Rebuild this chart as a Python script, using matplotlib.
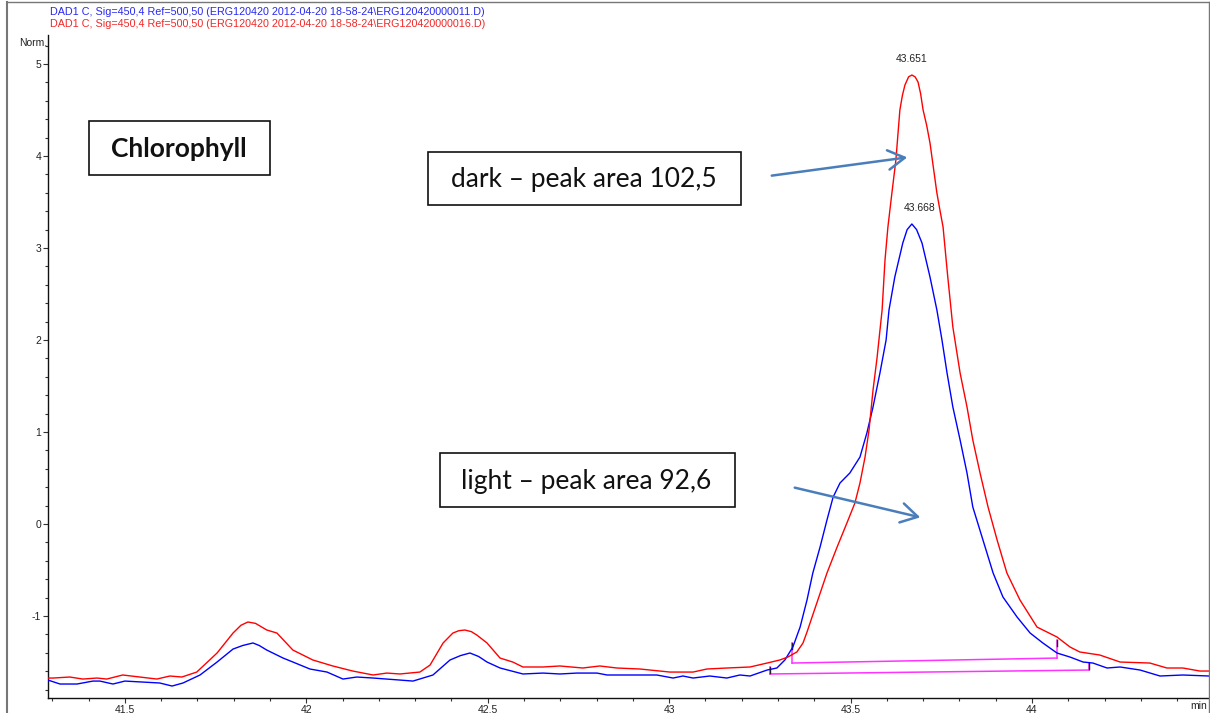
import matplotlib
matplotlib.use("Agg")
import matplotlib.pyplot as plt
from matplotlib.patches import Rectangle, FancyArrowPatch
from matplotlib.lines import Line2D
from matplotlib.ticker import MultipleLocator

# ---------------- data ----------------
time_dark = [41.288, 41.302, 41.348, 41.384, 41.423, 41.450, 41.494, 41.541, 41.588, 41.624,
             41.657, 41.698, 41.754, 41.798, 41.820, 41.839, 41.860, 41.891, 41.919, 41.963,
             42.018, 42.073, 42.128, 42.184, 42.222, 42.258, 42.313, 42.341, 42.377, 42.404,
             42.420, 42.437, 42.455, 42.470, 42.498, 42.534, 42.569, 42.597, 42.652, 42.699,
             42.762, 42.809, 42.856, 42.920, 43.002, 43.066, 43.104, 43.159, 43.223, 43.270,
             43.305, 43.327, 43.352, 43.369, 43.380, 43.407, 43.435, 43.463, 43.490, 43.512,
             43.526, 43.540, 43.551, 43.562, 43.573, 43.587, 43.595, 43.603, 43.614, 43.625,
             43.636, 43.643, 43.650, 43.660, 43.669, 43.678, 43.686, 43.693, 43.700, 43.710,
             43.719, 43.738, 43.746, 43.755, 43.768, 43.782, 43.802, 43.821, 43.837, 43.857,
             43.879, 43.904, 43.931, 43.967, 44.014, 44.069, 44.105, 44.132, 44.187, 44.243,
             44.325, 44.372, 44.416, 44.463, 44.488]
signal_dark = [-1.674, -1.674, -1.663, -1.685, -1.674, -1.685, -1.641, -1.663, -1.685, -1.652,
               -1.663, -1.609, -1.402, -1.185, -1.100, -1.065, -1.080, -1.152, -1.185, -1.370,
               -1.478, -1.543, -1.598, -1.641, -1.620, -1.630, -1.609, -1.533, -1.293, -1.185,
               -1.160, -1.152, -1.170, -1.207, -1.293, -1.457, -1.500, -1.554, -1.554, -1.543,
               -1.565, -1.543, -1.565, -1.576, -1.609, -1.609, -1.576, -1.565, -1.554, -1.511,
               -1.478, -1.446, -1.391, -1.293, -1.174, -0.859, -0.533, -0.250, 0.011, 0.228,
               0.446, 0.728, 1.022, 1.457, 1.804, 2.326, 2.870, 3.228, 3.598, 3.957,
               4.500, 4.660, 4.772, 4.860, 4.880, 4.860, 4.804, 4.680, 4.500, 4.330,
               4.141, 3.598, 3.420, 3.228, 2.685, 2.141, 1.641, 1.272, 0.913, 0.554,
               0.185, -0.174, -0.533, -0.826, -1.120, -1.228, -1.337, -1.391, -1.424, -1.500,
               -1.511, -1.565, -1.565, -1.598, -1.598]

time_light = [41.288, 41.321, 41.368, 41.412, 41.431, 41.467, 41.500, 41.596, 41.630, 41.660,
              41.707, 41.754, 41.798, 41.825, 41.853, 41.870, 41.891, 41.936, 41.963, 42.010,
              42.057, 42.101, 42.139, 42.184, 42.258, 42.294, 42.349, 42.396, 42.425, 42.451,
              42.475, 42.498, 42.534, 42.597, 42.652, 42.699, 42.746, 42.801, 42.829, 42.900,
              42.966, 43.011, 43.038, 43.066, 43.112, 43.159, 43.195, 43.223, 43.270, 43.297,
              43.319, 43.341, 43.361, 43.380, 43.396, 43.416, 43.435, 43.452, 43.471, 43.498,
              43.526, 43.545, 43.562, 43.581, 43.598, 43.606, 43.622, 43.644, 43.656, 43.669,
              43.682, 43.697, 43.719, 43.738, 43.752, 43.766, 43.782, 43.802, 43.821, 43.837,
              43.865, 43.893, 43.920, 43.959, 43.995, 44.030, 44.069, 44.105, 44.141, 44.168,
              44.207, 44.243, 44.298, 44.353, 44.416, 44.488]
signal_light = [-1.696, -1.739, -1.739, -1.707, -1.707, -1.739, -1.707, -1.728, -1.761, -1.728,
                -1.641, -1.500, -1.359, -1.320, -1.293, -1.320, -1.370, -1.457, -1.500, -1.576,
                -1.609, -1.685, -1.663, -1.674, -1.696, -1.707, -1.641, -1.478, -1.430, -1.402,
                -1.440, -1.500, -1.565, -1.630, -1.620, -1.630, -1.620, -1.620, -1.641, -1.641,
                -1.641, -1.674, -1.652, -1.674, -1.652, -1.674, -1.641, -1.652, -1.587, -1.565,
                -1.478, -1.337, -1.120, -0.826, -0.533, -0.250, 0.043, 0.293, 0.446, 0.554,
                0.728, 0.989, 1.272, 1.641, 2.000, 2.326, 2.685, 3.054, 3.200, 3.261,
                3.200, 3.054, 2.685, 2.326, 2.000, 1.641, 1.272, 0.913, 0.554, 0.185,
                -0.174, -0.533, -0.793, -1.011, -1.185, -1.293, -1.402, -1.446, -1.500, -1.511,
                -1.565, -1.554, -1.587, -1.652, -1.641, -1.652]

# integration baselines: [start_time, end_time], [start_level, end_level], [start_top, end_top]
base_dark_t = [43.339, 44.069]
base_dark_y = [-1.511, -1.457]
base_dark_top = [-1.29, -1.26]
base_light_t = [43.278, 44.157]
base_light_y = [-1.630, -1.587]
base_light_top = [-1.554, -1.51]

peak_labels = ["43.651", "43.668"]
peak_label_pos = [(43.669, 4.88), (43.690, 3.26)]

header_light = r"DAD1 C, Sig=450,4 Ref=500,50 (ERG120420 2012-04-20 18-58-24\ERG120420000011.D)"
header_dark = r"DAD1 C, Sig=450,4 Ref=500,50 (ERG120420 2012-04-20 18-58-24\ERG120420000016.D)"

# ---------------- figure ----------------
W, H = 1210, 713
fig = plt.figure(figsize=(W / 100, H / 100), dpi=100)

def fx(px):
    return px / W

def fy(py):
    return 1 - py / H

ax_left, ax_right, ax_top, ax_bottom = 48, 1209, 35, 698
ax = fig.add_axes([fx(ax_left), fy(ax_bottom), fx(ax_right - ax_left), (ax_bottom - ax_top) / H])

ax.plot(time_light, signal_light, color="#0000FF", lw=1.0, zorder=3, solid_joinstyle="round")
ax.plot(time_dark, signal_dark, color="#FF0000", lw=1.0, zorder=3, solid_joinstyle="round")

mag = "#FF33FF"
for t, yv, top in [(base_dark_t, base_dark_y, base_dark_top), (base_light_t, base_light_y, base_light_top)]:
    ax.plot(t, yv, color=mag, lw=1.1, zorder=2)
    for i in range(2):
        ax.plot([t[i], t[i]], [yv[i], top[i]], color=mag, lw=1.1, zorder=2)
        ax.plot([t[i], t[i]], [top[i] - 0.07, top[i]], color="#222222", lw=1.0, zorder=2)

for lab, (xx, yy) in zip(peak_labels, peak_label_pos):
    ax.annotate(lab, (xx, yy), xytext=(0, 8), textcoords="offset points", ha="center", va="bottom",
                fontsize=7.5, family="Liberation Sans", color="#222222")

ax.set_xlim(41.288, 44.488)
ax.set_ylim(-1.891, 5.315)
ax.xaxis.set_major_locator(MultipleLocator(0.5))
ax.xaxis.set_minor_locator(MultipleLocator(0.1))
ax.yaxis.set_major_locator(MultipleLocator(1))
ax.yaxis.set_minor_locator(MultipleLocator(0.2))
ax.xaxis.set_major_formatter(plt.FuncFormatter(lambda v, p: f"{v:g}"))
ax.yaxis.set_major_formatter(plt.FuncFormatter(lambda v, p: f"{v:g}"))
for s in ["top", "right"]:
    ax.spines[s].set_visible(False)
for s in ["left", "bottom"]:
    ax.spines[s].set_linewidth(1.0)
    ax.spines[s].set_color("#111111")
ax.tick_params(which="major", length=3.5, width=0.8, color="#333333", labelsize=7.5, pad=1.5)
ax.tick_params(which="minor", length=2.5, width=0.8, color="#333333")
for lab in ax.get_xticklabels() + ax.get_yticklabels():
    lab.set_family("Liberation Sans")
    lab.set_color("#222222")

fig.text(fx(47), fy(43), "Norm.", ha="right", va="center", fontsize=7.5, family="Liberation Sans", color="#222222")
fig.text(fx(1207), fy(701), "min", ha="right", va="top", fontsize=7.5, family="Liberation Sans", color="#222222")

fig.text(fx(50), fy(12), header_light, ha="left", va="center", fontsize=7.75, family="Liberation Sans", color="#2828F0")
fig.text(fx(50), fy(24), header_dark, ha="left", va="center", fontsize=7.75, family="Liberation Sans", color="#F02828")

# outer frame
fig.add_artist(Line2D([fx(7), fx(7)], [fy(2), 0], transform=fig.transFigure, color="#777777", lw=1.5))
fig.add_artist(Line2D([fx(7), fx(1209)], [fy(2), fy(2)], transform=fig.transFigure, color="#777777", lw=1.0))
fig.add_artist(Line2D([fx(1209), fx(1209)], [fy(2), 0], transform=fig.transFigure, color="#777777", lw=1.0))

# annotation boxes
boxes = [((89, 121, 270, 175), "Chlorophyll", "bold", 19.0),
         ((428, 152, 741, 205), "dark \u2013 peak area 102,5", "normal", 19.0),
         ((440, 453, 735, 507), "light \u2013 peak area 92,6", "normal", 19.0)]
for (x0, y0, x1, y1), txt, wt, fs in boxes:
    fig.add_artist(Rectangle((fx(x0), fy(y1)), fx(x1 - x0), (y1 - y0) / H, transform=fig.transFigure,
                             facecolor="white", edgecolor="#111111", lw=1.2, zorder=5))
    fig.text(fx((x0 + x1) / 2 - 1), fy((y0 + y1) / 2 + 1), txt, ha="center", va="center", fontsize=fs,
             family="Lato", weight=wt, color="#111111", zorder=6)

arrow_color = "#4A7EBB"
for (x0, y0), (x1, y1) in [((769, 176), (910, 157)), ((792, 487), (923, 518))]:
    fig.add_artist(FancyArrowPatch((fx(x0), fy(y0)), (fx(x1), fy(y1)), transform=fig.transFigure,
                                   arrowstyle="->,head_length=12,head_width=7", mutation_scale=1,
                                   color=arrow_color, lw=1.8, zorder=6))

fig.savefig("out.png", dpi=100)
